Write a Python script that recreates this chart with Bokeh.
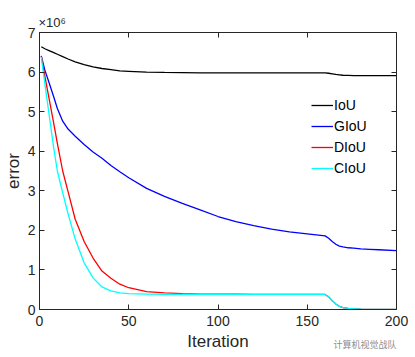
from bokeh.plotting import figure
from bokeh.models import LinearAxis, FixedTicker, Label, Legend, LegendItem, CustomLabelingPolicy
from bokeh.embed import file_html
from bokeh.resources import INLINE

# ---- data (error in units of 1e6) ----
iteration = [1, 3, 5, 8, 10, 13, 16, 20, 25, 30, 35, 40, 45, 50, 60, 70, 80, 90, 100,
             110, 120, 130, 140, 150, 160, 162, 164, 166, 168, 170, 173, 176, 180, 185, 190, 200]
iou = [6.64, 6.59, 6.55, 6.49, 6.45, 6.39, 6.33, 6.26, 6.19, 6.13, 6.09, 6.06, 6.03, 6.02,
       6.00, 5.99, 5.985, 5.98, 5.98, 5.98, 5.98, 5.98, 5.98, 5.98, 5.98, 5.97, 5.955, 5.94,
       5.93, 5.92, 5.915, 5.91, 5.91, 5.91, 5.91, 5.91]
giou = [6.41, 6.05, 5.78, 5.37, 5.08, 4.76, 4.56, 4.38, 4.17, 3.98, 3.82, 3.64, 3.48, 3.33,
        3.06, 2.86, 2.68, 2.52, 2.35, 2.22, 2.12, 2.03, 1.96, 1.91, 1.86, 1.80, 1.72, 1.65,
        1.60, 1.58, 1.56, 1.55, 1.53, 1.52, 1.51, 1.49]
diou = [6.40, 5.90, 5.42, 4.70, 4.20, 3.50, 2.98, 2.28, 1.72, 1.30, 0.97, 0.79, 0.64, 0.55,
        0.45, 0.42, 0.40, 0.39, 0.385, 0.385, 0.38, 0.38, 0.38, 0.38, 0.38, 0.32, 0.22, 0.14,
        0.08, 0.05, 0.03, 0.02, 0.01, 0.005, 0.0, 0.0]
ciou = [6.38, 5.70, 5.05, 4.07, 3.50, 2.95, 2.42, 1.78, 1.18, 0.80, 0.57, 0.47, 0.42, 0.40,
        0.39, 0.385, 0.38, 0.38, 0.38, 0.38, 0.38, 0.38, 0.38, 0.38, 0.38, 0.32, 0.22, 0.14,
        0.08, 0.05, 0.03, 0.02, 0.01, 0.005, 0.0, 0.0]
series_names = ["IoU", "GIoU", "DIoU", "CIoU"]
series_colors = ["#000000", "#0000ff", "#ff0000", "#00ffff"]
x_ticks = [0, 50, 100, 150, 200]
y_ticks = [0, 1, 2, 3, 4, 5, 6, 7]

FONT = "Liberation Sans"
AX = "#262626"

p = figure(width=415, height=357, x_range=(0, 200), y_range=(0, 7),
           output_backend="svg", toolbar_location=None,
           min_border_left=38, min_border_right=19, min_border_top=27, min_border_bottom=48)
p.grid.visible = False
p.outline_line_color = None
p.background_fill_color = "white"
p.border_fill_color = "white"

def style_axis(ax, size="14px"):
    ax.axis_line_color = AX
    ax.axis_line_width = 1
    ax.major_tick_line_color = AX
    ax.major_tick_in = 5
    ax.major_tick_out = 0
    ax.minor_tick_line_color = None
    ax.major_label_text_font = FONT
    ax.major_label_text_color = AX
    ax.major_label_text_font_size = size
    ax.axis_label_text_font = FONT
    ax.axis_label_text_font_style = "normal"
    ax.axis_label_text_color = AX
    ax.axis_label_text_font_size = "17px"

p.xaxis.ticker = FixedTicker(ticks=x_ticks)
p.yaxis.ticker = FixedTicker(ticks=y_ticks)
p.xaxis.axis_label = "Iteration"
p.yaxis.axis_label = "error"
style_axis(p.xaxis[0])
style_axis(p.yaxis[0])
p.xaxis.major_label_standoff = 6
p.yaxis.major_label_standoff = 4
p.xaxis.axis_label_standoff = 3
p.yaxis.axis_label_standoff = 2

top = LinearAxis(ticker=FixedTicker(ticks=x_ticks),
                 major_label_policy=CustomLabelingPolicy(code="return new Set()"))
style_axis(top, "1px")
top.major_label_standoff = 0
p.add_layout(top, "above")
right = LinearAxis(ticker=FixedTicker(ticks=y_ticks),
                   major_label_policy=CustomLabelingPolicy(code="return new Set()"))
style_axis(right, "1px")
right.major_label_standoff = 0
p.add_layout(right, "right")

items = []
for name, ys, col in zip(series_names, [iou, giou, diou, ciou], series_colors):
    r = p.line(iteration, ys, line_color=col, line_width=1.3)
    items.append(LegendItem(label=name, renderers=[r]))

leg = Legend(items=items, location=(272, 131))
leg.background_fill_alpha = 0
leg.border_line_color = None
leg.padding = 0
leg.margin = 0
leg.spacing = 1
leg.glyph_width = 22
leg.glyph_height = 20
leg.label_height = 20
leg.label_standoff = 1
leg.label_text_font = FONT
leg.label_text_font_size = "14px"
leg.label_text_color = "#000000"
p.add_layout(leg)

# texts outside the frame: placed in a side panel, positioned in canvas pixels
p.add_layout(Label(x=38, y=22, x_units="canvas", y_units="canvas", text="×10⁶",
                   text_font=FONT, text_font_size="13px", text_color=AX,
                   text_baseline="alphabetic"), "above")
p.add_layout(Label(x=333, y=344, x_units="canvas", y_units="canvas", text="计算机视觉战队",
                   text_font="Noto Sans CJK SC", text_font_size="9px", text_color="#8c8c8c",
                   text_baseline="alphabetic"), "above")

open("out.html", "w").write(file_html(p, INLINE))
